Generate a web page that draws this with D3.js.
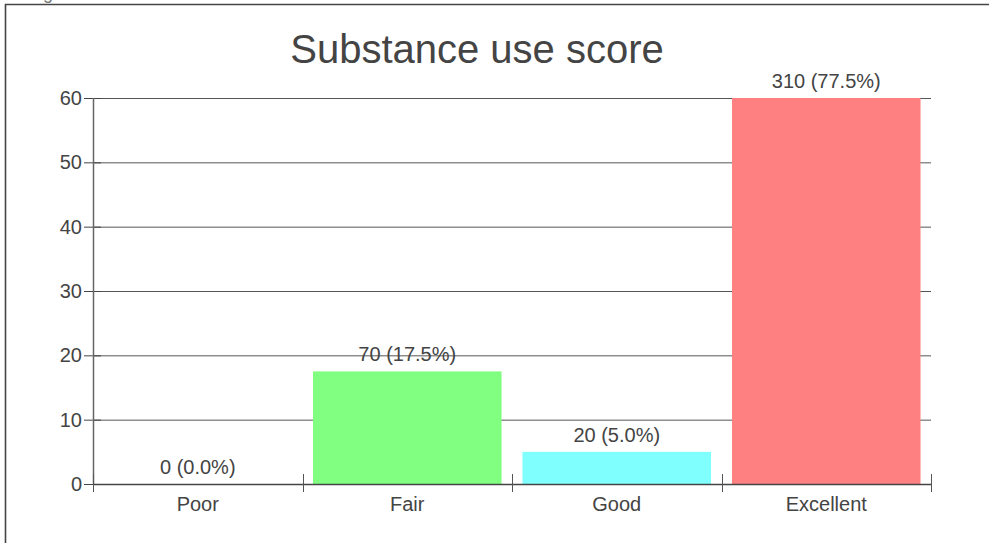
<!DOCTYPE html>
<html>
<head>
<meta charset="utf-8">
<script src="https://cdn.jsdelivr.net/npm/d3@7"></script>
<style>
  html, body { margin: 0; padding: 0; background: #fff; overflow: hidden; }
  svg { display: block; font-family: "Liberation Sans", Arial, sans-serif; }
</style>
</head>
<body>
<svg id="chart" width="989" height="543"></svg>
<script>
const chartTitle = "Substance use score";
const captionText = "Figure 1: Substance use score";
const categories = ["Poor", "Fair", "Good", "Excellent"];
const counts = [0, 70, 20, 310];
const barColors = ["#8080ff", "#80ff80", "#80ffff", "#ff8080"];
const yTicks = [0, 10, 20, 30, 40, 50, 60];

const total = d3.sum(counts);
const percents = counts.map(c => c / total * 100);

const svg = d3.select("#chart");
const W = 989, H = 543;
const mLeft = 93, mRight = 931, mTop = 98, mBottom = 484;
const textColor = "#444";

// clipped caption above the frame (only its lower edge is visible, as in the reference)
svg.append("text")
  .attr("x", 28).attr("y", -1)
  .attr("font-size", 18).attr("fill", "#777")
  .text(captionText);

// frame
svg.append("path")
  .attr("d", `M5.5,${H + 5}V4.5H${W + 5}`)
  .attr("fill", "none").attr("stroke", "#444").attr("stroke-width", 1.6);

const x = d3.scaleBand().domain(categories).range([mLeft, mRight])
  .paddingInner(0.1).paddingOuter(0.05);
const y = d3.scaleLinear().domain([0, 60]).range([mBottom, mTop]);

// title
svg.append("text")
  .attr("x", 477).attr("y", 63)
  .attr("text-anchor", "middle")
  .attr("font-size", 40).attr("fill", textColor)
  .text(chartTitle);

// gridlines
svg.append("g").selectAll("line").data(yTicks.filter(d => d > 0)).join("line")
  .attr("x1", mLeft).attr("x2", mRight)
  .attr("y1", d => y(d) + 0.5).attr("y2", d => y(d) + 0.5)
  .attr("stroke", "#555").attr("stroke-width", 1);

// y ticks (crossing axis)
svg.append("g").selectAll("line").data(yTicks).join("line")
  .attr("x1", mLeft - 9).attr("x2", mLeft + 8)
  .attr("y1", d => y(d) + 0.5).attr("y2", d => y(d) + 0.5)
  .attr("stroke", "#444").attr("stroke-width", 1);

// y labels
svg.append("g").selectAll("text").data(yTicks).join("text")
  .attr("x", mLeft - 11).attr("y", d => y(d) + 7)
  .attr("text-anchor", "end")
  .attr("font-size", 20).attr("fill", textColor)
  .text(d => d);

// bars (clipped to plot area)
svg.append("clipPath").attr("id", "plotclip")
  .append("rect").attr("x", mLeft).attr("y", mTop).attr("width", mRight - mLeft).attr("height", mBottom - mTop);

svg.append("g").attr("clip-path", "url(#plotclip)")
  .selectAll("rect").data(categories).join("rect")
  .attr("x", d => x(d))
  .attr("width", x.bandwidth())
  .attr("y", (d, i) => y(percents[i]))
  .attr("height", (d, i) => mBottom - y(percents[i]))
  .attr("fill", (d, i) => barColors[i]);

// value labels
svg.append("g").selectAll("text").data(categories).join("text")
  .attr("x", d => x(d) + x.bandwidth() / 2)
  .attr("y", (d, i) => y(Math.min(percents[i], 60)) - 10)
  .attr("text-anchor", "middle")
  .attr("font-size", 20).attr("fill", textColor)
  .text((d, i) => `${counts[i]} (${percents[i].toFixed(1)}%)`);

// axes lines
svg.append("line")
  .attr("x1", mLeft + 0.5).attr("x2", mLeft + 0.5).attr("y1", mTop).attr("y2", mBottom)
  .attr("stroke", "#666").attr("stroke-width", 1.5);
svg.append("line")
  .attr("x1", mLeft).attr("x2", mRight + 1).attr("y1", mBottom + 0.5).attr("y2", mBottom + 0.5)
  .attr("stroke", "#444").attr("stroke-width", 1.5);

// x ticks at band boundaries
const step = x.step();
const boundaries = d3.range(categories.length + 1).map(i => mLeft + i * step);
svg.append("g").selectAll("line").data(boundaries).join("line")
  .attr("x1", d => Math.round(d) + 0.5).attr("x2", d => Math.round(d) + 0.5)
  .attr("y1", mBottom - 10).attr("y2", mBottom + 8)
  .attr("stroke", "#555").attr("stroke-width", 1);

// x labels
svg.append("g").selectAll("text").data(categories).join("text")
  .attr("x", d => x(d) + x.bandwidth() / 2)
  .attr("y", mBottom + 27)
  .attr("text-anchor", "middle")
  .attr("font-size", 20).attr("fill", textColor)
  .text(d => d);
</script>
</body>
</html>
